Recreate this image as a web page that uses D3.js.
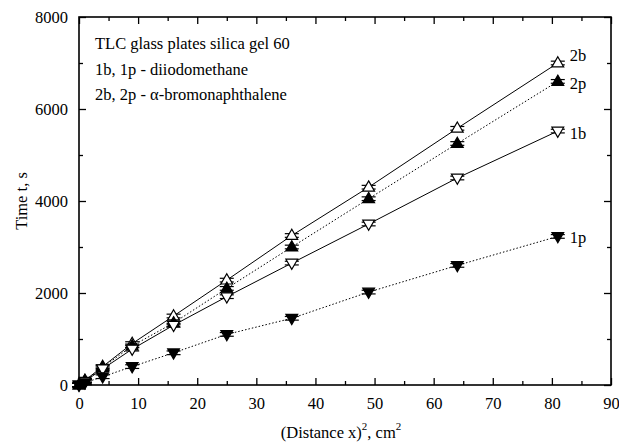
<!DOCTYPE html>
<html>
<head>
<meta charset="utf-8">
<script src="https://cdn.jsdelivr.net/npm/d3@7"></script>
<style>
  body { margin: 0; background: #fff; }
  text { font-family: "Liberation Serif", "Times New Roman", "DejaVu Serif", serif; fill: #000; }
</style>
</head>
<body>
<div id="chart"></div>
<script>
// Chart data: squared distance vs time for four series
var xValues = [0, 1, 4, 9, 16, 25, 36, 49, 64, 81];
var t2b = [0, 100, 400, 900, 1500, 2280, 3250, 4300, 5580, 7000];
var t2p = [0, 90, 380, 850, 1350, 2100, 3000, 4050, 5250, 6600];
var t1b = [0, 80, 350, 780, 1300, 1920, 2650, 3500, 4500, 5520];
var t1p = [0, 50, 180, 400, 700, 1100, 1450, 2020, 2600, 3230];
var seriesNames = ["2b", "2p", "1b", "1p"];
var xTicks = [0, 10, 20, 30, 40, 50, 60, 70, 80, 90];
var yTicks = [0, 2000, 4000, 6000, 8000];
var legendLines = ["TLC glass plates silica gel 60", "1b, 1p - diiodomethane", "2b, 2p - \u03b1-bromonaphthalene"];
var errT = 40;

var serif = "'Liberation Serif', 'Times New Roman', serif";
var svgWidth = 619;
var svgHeight = 446;
var margin = { top: 17, left: 79, right: 8, bottom: 61 };
var width = svgWidth - margin.left - margin.right;
var height = svgHeight - margin.top - margin.bottom;

var svg = d3.select("#chart").append("svg")
    .attr("width", svgWidth)
    .attr("height", svgHeight);

var g = svg.append("g")
    .attr("transform", `translate(${margin.left}, ${margin.top})`);

var x = d3.scaleLinear().domain([0, 90]).range([0, width]);
var y = d3.scaleLinear().domain([0, 8000]).range([height, 0]);

// Styles per series
var styles = {
    "2b": { data: t2b, dash: null, up: true, fill: "#fff" },
    "2p": { data: t2p, dash: "1.5,2", up: true, fill: "#000" },
    "1b": { data: t1b, dash: null, up: false, fill: "#fff" },
    "1p": { data: t1p, dash: "1.5,2", up: false, fill: "#000" }
};

// Axes with inward ticks on all four sides
var minorX = d3.range(5, 90, 10);
var minorY = d3.range(1000, 8000, 2000);

g.append("g").attr("transform", `translate(0, ${height})`)
    .call(d3.axisBottom(x).tickValues(xTicks).tickSizeInner(-7).tickSizeOuter(0).tickPadding(12));
g.append("g").attr("transform", `translate(0, ${height})`)
    .call(d3.axisBottom(x).tickValues(minorX).tickSizeInner(-4).tickSizeOuter(0).tickFormat(""));
g.append("g")
    .call(d3.axisTop(x).tickValues(xTicks).tickSizeInner(-7).tickSizeOuter(0).tickFormat(""));
g.append("g")
    .call(d3.axisTop(x).tickValues(minorX).tickSizeInner(-4).tickSizeOuter(0).tickFormat(""));
g.append("g")
    .call(d3.axisLeft(y).tickValues(yTicks).tickSizeInner(-7).tickSizeOuter(0).tickPadding(11).tickFormat(d3.format("d")));
g.append("g")
    .call(d3.axisLeft(y).tickValues(minorY).tickSizeInner(-4).tickSizeOuter(0).tickFormat(""));
g.append("g").attr("transform", `translate(${width}, 0)`)
    .call(d3.axisRight(y).tickValues(yTicks).tickSizeInner(-7).tickSizeOuter(0).tickFormat(""));
g.append("g").attr("transform", `translate(${width}, 0)`)
    .call(d3.axisRight(y).tickValues(minorY).tickSizeInner(-4).tickSizeOuter(0).tickFormat(""));

g.selectAll(".domain").remove();
g.selectAll(".tick line").attr("stroke", "#000").attr("stroke-width", 1.3);
g.selectAll(".tick text").style("font-size", "16.5px").style("font-family", serif);

// frame
g.append("rect")
    .attr("width", width)
    .attr("height", height)
    .attr("fill", "none")
    .attr("stroke", "#000")
    .attr("stroke-width", 1.6);

// Lines
var line = d3.line()
    .x((d, i) => x(xValues[i]))
    .y(d => y(d));

seriesNames.forEach(function (name) {
    var s = styles[name];
    g.append("path")
        .datum(s.data)
        .attr("d", line)
        .attr("fill", "none")
        .attr("stroke", "#000")
        .attr("stroke-width", 1)
        .attr("stroke-dasharray", s.dash);
});

// Error bars and markers
seriesNames.forEach(function (name) {
    var s = styles[name];
    var pts = g.append("g").selectAll("g")
        .data(s.data)
        .enter()
        .append("g")
        .attr("transform", (d, i) => `translate(${x(xValues[i])}, ${y(d)})`);

    pts.append("line")
        .attr("x1", 0).attr("x2", 0)
        .attr("y1", d => y(d + errT) - y(d))
        .attr("y2", d => y(d - errT) - y(d))
        .attr("stroke", "#000");
    pts.append("line")
        .attr("x1", -7).attr("x2", 7)
        .attr("y1", d => y(d + errT) - y(d))
        .attr("y2", d => y(d + errT) - y(d))
        .attr("stroke", "#000").attr("stroke-width", 1.2);
    pts.append("line")
        .attr("x1", -7).attr("x2", 7)
        .attr("y1", d => y(d - errT) - y(d))
        .attr("y2", d => y(d - errT) - y(d))
        .attr("stroke", "#000").attr("stroke-width", 1.2);

    pts.append("path")
        .attr("d", d3.symbol().type(d3.symbolTriangle).size(60))
        .attr("transform", s.up ? "translate(0,0.5)" : "rotate(180) translate(0,0.5)")
        .attr("fill", s.fill)
        .attr("stroke", "#000")
        .attr("stroke-width", 1.2);
});

// Series labels at the right end
seriesNames.forEach(function (name) {
    var s = styles[name];
    var offset = { "2b": -8, "2p": 2, "1b": 2, "1p": 1 }[name];
    g.append("text")
        .attr("x", x(81) + 12)
        .attr("y", y(s.data[s.data.length - 1]) + offset)
        .attr("dy", "0.35em")
        .style("font-size", "16.5px")
        .text(name);
});

// Legend text
legendLines.forEach(function (t, i) {
    g.append("text")
        .attr("x", 16)
        .attr("y", 32 + i * 25.5)
        .style("font-size", "16.5px")
        .text(t);
});

// Axis titles
svg.append("text")
    .attr("transform", `translate(27, ${margin.top + height / 2}) rotate(-90)`)
    .attr("text-anchor", "middle")
    .style("font-size", "16.5px")
    .text("Time t, s");

var xTitle = svg.append("text")
    .attr("x", margin.left + width / 2 - 4)
    .attr("y", 438)
    .attr("text-anchor", "middle")
    .style("font-size", "16.5px");
xTitle.append("tspan").text("(Distance x)");
xTitle.append("tspan").attr("dy", -8).style("font-size", "11px").text("2");
xTitle.append("tspan").attr("dy", 8).text(", cm");
xTitle.append("tspan").attr("dy", -8).style("font-size", "11px").text("2");
</script>
</body>
</html>
